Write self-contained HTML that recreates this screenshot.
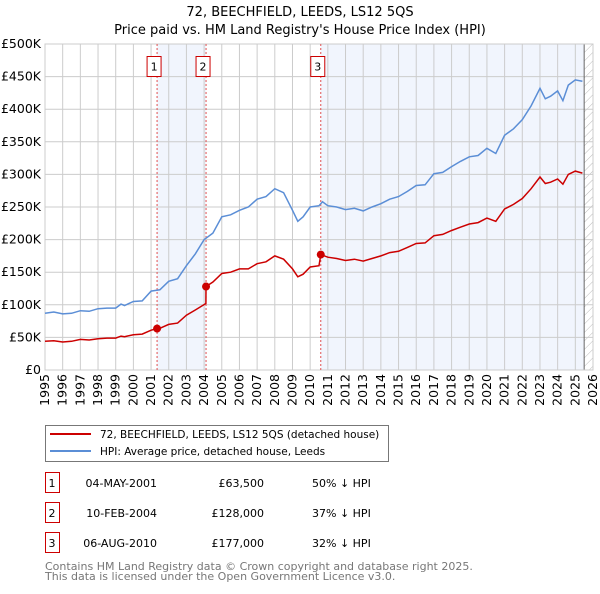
<!DOCTYPE html>
<html><head><meta charset="utf-8"><style>
body{margin:0;background:#fff;font-family:"DejaVu Sans","Liberation Sans",sans-serif;}
svg text{font-family:"DejaVu Sans","Liberation Sans",sans-serif;}
</style></head><body>
<svg id="c" width="600" height="590" xmlns="http://www.w3.org/2000/svg">
<defs><pattern id="hatch" width="6" height="6" patternUnits="userSpaceOnUse" patternTransform="rotate(45)"><line x1="0" y1="0" x2="0" y2="6" stroke="#bbb" stroke-width="1"/></pattern></defs>
<text x="300" y="16" text-anchor="middle" font-size="13">72, BEECHFIELD, LEEDS, LS12 5QS</text>
<text x="300" y="34" text-anchor="middle" font-size="13">Price paid vs. HM Land Registry's House Price Index (HPI)</text>
<g id="plot"></g>
<g>
<rect x="45.5" y="425.5" width="343" height="36" fill="#fff" stroke="#777"/>
<line x1="50" y1="434" x2="91" y2="434" stroke="#cc0000" stroke-width="2"/>
<text x="100" y="438" font-size="10.5">72, BEECHFIELD, LEEDS, LS12 5QS (detached house)</text>
<line x1="50" y1="451" x2="91" y2="451" stroke="#5b8ed6" stroke-width="2"/>
<text x="100" y="455" font-size="10.5">HPI: Average price, detached house, Leeds</text>
</g>
<g id="table" font-size="11"></g>
<text x="45" y="570" font-size="11" fill="#777">Contains HM Land Registry data © Crown copyright and database right 2025.</text>
<text x="45" y="580" font-size="11" fill="#777">This data is licensed under the Open Government Licence v3.0.</text>
</svg>
<script>
const hpiYears=[1995,1995.5,1996,1996.5,1997,1997.5,1998,1998.5,1999,1999.3,1999.5,2000,2000.5,2001,2001.5,2002,2002.5,2003,2003.5,2004,2004.5,2005,2005.5,2006,2006.5,2007,2007.5,2008,2008.5,2009,2009.3,2009.6,2010,2010.5,2010.7,2011,2011.5,2012,2012.5,2013,2013.5,2014,2014.5,2015,2015.5,2016,2016.5,2017,2017.5,2018,2018.5,2019,2019.5,2020,2020.5,2021,2021.5,2022,2022.5,2023,2023.3,2023.6,2024,2024.3,2024.6,2025,2025.4];
const hpiValues=[87,89,86,87,91,90,94,95,95,101,99,105,106,121,123,136,140,160,178,200,210,235,238,245,250,262,266,278,272,245,228,235,250,252,258,252,250,246,248,244,250,255,262,266,274,283,284,301,303,312,320,327,329,340,332,360,370,384,405,432,416,420,428,413,437,445,443];
const propYears=[1995,1995.5,1996,1996.5,1997,1997.5,1998,1998.5,1999,1999.3,1999.5,2000,2000.5,2001,2001.34,2001.5,2002,2002.5,2003,2003.5,2004.1,2004.11,2004.5,2005,2005.5,2006,2006.5,2007,2007.5,2008,2008.5,2009,2009.3,2009.6,2010,2010.5,2010.6,2011,2011.5,2012,2012.5,2013,2013.5,2014,2014.5,2015,2015.5,2016,2016.5,2017,2017.5,2018,2018.5,2019,2019.5,2020,2020.5,2021,2021.5,2022,2022.5,2023,2023.3,2023.6,2024,2024.3,2024.6,2025,2025.4];
const propValues=[44,45,43,44,47,46,48,49,49,52,51,54,55,61,63.5,64,70,72,84,92,102,128,135,148,150,155,155,163,166,175,170,155,143,147,158,160,177,173,171,168,170,167,171,175,180,182,188,194,195,206,208,214,219,224,226,233,228,247,254,263,278,296,286,288,293,285,300,305,302];
const saleLabels=["1","2","3"];
const saleYears=[2001.34,2004.11,2010.6];
const saleValues=[63.5,128,177];
const saleDates=["04-MAY-2001","10-FEB-2004","06-AUG-2010"];
const salePrices=["£63,500","£128,000","£177,000"];
const saleDiffs=["50% ↓ HPI","37% ↓ HPI","32% ↓ HPI"];
const yTicks=[0,50,100,150,200,250,300,350,400,450,500];
const yTickLabels=["£0","£50K","£100K","£150K","£200K","£250K","£300K","£350K","£400K","£450K","£500K"];
const xTicks=[1995,1996,1997,1998,1999,2000,2001,2002,2003,2004,2005,2006,2007,2008,2009,2010,2011,2012,2013,2014,2015,2016,2017,2018,2019,2020,2021,2022,2023,2024,2025,2026];

const L=45,R=593,T=44,B=370,x0=1995,x1=2026,yMax=500,dataEnd=2025.5;
const X=v=>L+(v-x0)/(x1-x0)*(R-L);
const Y=v=>B-v/yMax*(B-T);
const NS="http://www.w3.org/2000/svg";
const g=document.getElementById('plot');
function mk(tag,attrs,parent){const e=document.createElementNS(NS,tag);for(const k in attrs)e.setAttribute(k,attrs[k]);(parent||g).appendChild(e);return e;}

let r=mk('rect',{x:X(saleYears[0]),y:T,width:X(saleYears[1])-X(saleYears[0]),height:B-T,fill:'#eef3fc',opacity:0.8});


r=mk('rect',{x:X(saleYears[2]),y:T,width:X(dataEnd)-X(saleYears[2]),height:B-T,fill:'#eef3fc',opacity:0.8});


r=mk('rect',{x:X(dataEnd),y:T,width:R-X(dataEnd),height:B-T,fill:'url(#hatch)'});



yTicks.forEach((v,i)=>{
 const l=mk('line',{x1:L,x2:R,y1:Y(v),y2:Y(v),stroke:'#ccc','stroke-width':1});
 
 
 const t=mk('text',{x:L-4,y:Y(v)+4,'text-anchor':'end','font-size':12.5});
 t.textContent=yTickLabels[i];
 
 
});
xTicks.forEach(v=>{
 const l=mk('line',{x1:X(v),x2:X(v),y1:T,y2:B,stroke:'#ccc','stroke-width':1});
 
 
 const t=mk('text',{x:0,y:0,'text-anchor':'end','font-size':12.5,transform:`translate(${X(v)+4},${B+4}) rotate(-90)`});
 t.textContent=v;
 
 
});
let el=mk('line',{x1:X(dataEnd),x2:X(dataEnd),y1:T,y2:B,stroke:'#666','stroke-width':1});


el=mk('rect',{x:L,y:T,width:R-L,height:B-T,fill:'none',stroke:'#ccc'});



saleYears.forEach((v,i)=>{
 const l=mk('line',{x1:X(v),x2:X(v),y1:T,y2:B,stroke:'#e05050','stroke-width':1,'stroke-dasharray':'2,2'});
 
 
});

const path=(xs,ys)=>xs.map((v,i)=>(i?'L':'M')+X(v).toFixed(1)+','+Y(ys[i]).toFixed(1)).join('');
el=mk('path',{d:path(hpiYears,hpiValues),fill:'none',stroke:'#5b8ed6','stroke-width':1.5});


el=mk('path',{d:path(propYears,propValues),fill:'none',stroke:'#cc0000','stroke-width':1.5});



saleYears.forEach((v,i)=>{
 const c=mk('circle',{cx:X(v),cy:Y(saleValues[i]),r:4,fill:'#cc0000'});
 
 
 const bx=mk('rect',{x:X(v)-10,y:56.5,width:14,height:20,fill:'#fff',stroke:'#cc0000'});
 
 
 const t=mk('text',{x:X(v)-3,y:70.5,'text-anchor':'middle','font-size':11});
 t.textContent=saleLabels[i];
 
 
});

const tb=document.getElementById('table');
saleLabels.forEach((s,i)=>{
 const y=483+i*30;
 const b=mk('rect',{x:45.5,y:y-10.5,width:14,height:20,fill:'#fff',stroke:'#cc0000'},tb);
 
 
 const cells=[[52,'middle',s],[157,'end',saleDates[i]],[264,'end',salePrices[i]],[312,'start',saleDiffs[i]]];
 cells.forEach(([x,a,txt],j)=>{
  const t=mk('text',{x:x,y:y+4,'text-anchor':a},tb);
  t.textContent=txt;
  
  
 });
});
</script>
</body></html>
